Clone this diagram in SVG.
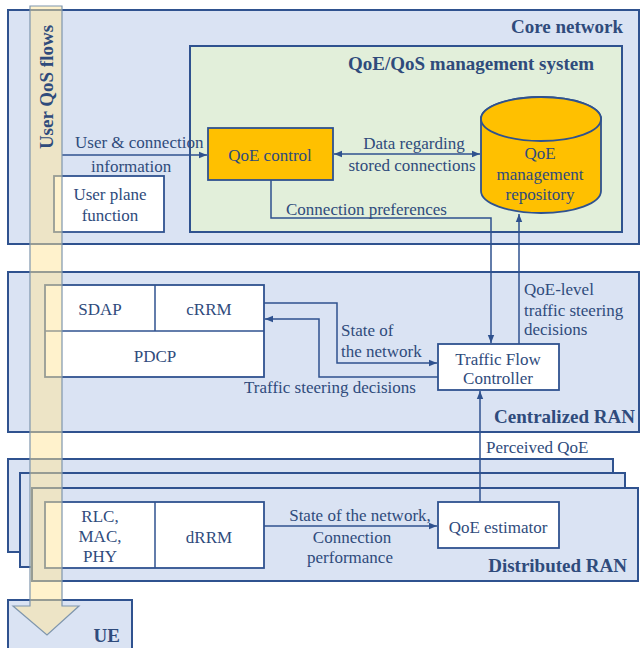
<svg xmlns="http://www.w3.org/2000/svg" width="640" height="648" viewBox="0 0 640 648">
<style>
text{font-family:"Liberation Serif","Times New Roman",serif;fill:#2f4b7c;font-size:17px}
.t{font-weight:bold;font-size:19px}
.m{text-anchor:middle}
.e{text-anchor:end}
.area{fill:#dae3f3;stroke:#2f528f;stroke-width:2}
.box{fill:#ffffff;stroke:#2f528f;stroke-width:1.8}
.org{fill:#ffc000;stroke:#2f528f;stroke-width:1.8}
.c{fill:none;stroke:#2f528f;stroke-width:1.5}
</style>
<defs>
<marker id="ah" viewBox="0 0 10 10" refX="10" refY="5" markerWidth="8" markerHeight="8" markerUnits="userSpaceOnUse" orient="auto-start-reverse"><path d="M0,1 L10,5 L0,9 z" fill="#2f528f"/></marker>
</defs>

<g id="core">
<rect class="area" x="8" y="10" width="631" height="234"/>
<text class="t e" x="623" y="33">Core network</text>
</g>
<g id="qoe-system">
<rect x="190" y="46" width="432" height="186" fill="#e2efda" stroke="#2f528f" stroke-width="2"/>
<text class="t m" x="471" y="70">QoE/QoS management system</text>
</g>
<g id="centralized-ran">
<rect class="area" x="8" y="272" width="631" height="160"/>
<text class="t e" x="635" y="423">Centralized RAN</text>
</g>
<g id="distributed-ran">
<rect class="area" x="8" y="459" width="605" height="93"/>
<rect class="area" x="20" y="473" width="605" height="94"/>
<rect class="area" x="32" y="488" width="606" height="93"/>
<text class="t e" x="627" y="572">Distributed RAN</text>
</g>
<g id="ue">
<rect class="area" x="8" y="600" width="124" height="60"/>
<text class="t e" x="120" y="642">UE</text>
</g>

<g id="upf">
<rect class="box" x="54" y="176" width="110" height="56"/>
<text class="m" x="110" y="200">User plane</text>
<text class="m" x="110" y="221">function</text>
</g>
<g id="qoe-control">
<rect class="org" x="208" y="128" width="125" height="52"/>
<text class="m" x="270" y="161">QoE control</text>
</g>
<g id="repository">
<path class="org" d="M481,119 V191 A60,22 0 0 0 601,191 V119 A60,22 0 0 0 481,119 Z"/>
<ellipse class="org" cx="541" cy="119" rx="60" ry="22"/>
<text class="m" x="540" y="159">QoE</text>
<text class="m" x="540" y="180">management</text>
<text class="m" x="540" y="200">repository</text>
</g>
<g id="cu-stack">
<rect class="box" x="45" y="285" width="219" height="92"/>
<line class="c" x1="45" y1="331" x2="264" y2="331" stroke-width="1.8"/>
<line class="c" x1="155" y1="285" x2="155" y2="331" stroke-width="1.8"/>
<text class="m" x="100" y="315">SDAP</text>
<text class="m" x="209" y="315">cRRM</text>
<text class="m" x="155" y="362">PDCP</text>
</g>
<g id="tfc">
<rect class="box" x="438" y="344" width="121" height="46"/>
<text class="m" x="498" y="365">Traffic Flow</text>
<text class="m" x="498" y="384">Controller</text>
</g>
<g id="du-stack">
<rect class="box" x="45" y="502" width="219" height="66"/>
<line class="c" x1="155" y1="502" x2="155" y2="568" stroke-width="1.8"/>
<text class="m" x="100" y="522">RLC,</text>
<text class="m" x="100" y="542">MAC,</text>
<text class="m" x="100" y="562">PHY</text>
<text class="m" x="209" y="543">dRRM</text>
</g>
<g id="qoe-estimator">
<rect class="box" x="438" y="502" width="121" height="46"/>
<text class="m" x="498" y="533">QoE estimator</text>
</g>

<g id="connectors">
<path class="c" d="M62,155 H207" marker-end="url(#ah)"/>
<path class="c" d="M334,154 H480" marker-start="url(#ah)" marker-end="url(#ah)"/>
<path class="c" d="M271,180 V218 H491 V343" marker-end="url(#ah)"/>
<path class="c" d="M519,344 V214" marker-end="url(#ah)"/>
<path class="c" d="M264,303 H337 V363 H437" marker-end="url(#ah)"/>
<path class="c" d="M438,377 H319 V319 H265" marker-end="url(#ah)"/>
<path class="c" d="M480,502 V391" marker-end="url(#ah)"/>
<path class="c" d="M264,526 H437" marker-end="url(#ah)"/>
</g>
<g id="connector-labels">
<text x="75" y="148">User &amp; connection</text>
<text x="91" y="172">information</text>
<text class="m" x="414" y="149">Data regarding</text>
<text class="m" x="412" y="171">stored connections</text>
<text x="286" y="215">Connection preferences</text>
<text x="524" y="295">QoE-level</text>
<text x="524" y="316">traffic steering</text>
<text x="524" y="335">decisions</text>
<text x="341" y="336">State of</text>
<text x="341" y="357">the network</text>
<text class="m" x="330" y="393">Traffic steering decisions</text>
<text x="486" y="453">Perceived QoE</text>
<text class="m" x="360" y="521">State of the network,</text>
<text class="m" x="352" y="543">Connection</text>
<text class="m" x="350" y="563">performance</text>
</g>

<g id="user-qos-flows">
<path d="M30,6 H62 V606 H79 L47,635 L13,606 H30 Z" fill="#ffe699" fill-opacity="0.5" stroke="#7f96ad" stroke-width="1.2"/>
<text class="t m" transform="translate(53,87) rotate(-90)">User QoS flows</text>
</g>
</svg>
